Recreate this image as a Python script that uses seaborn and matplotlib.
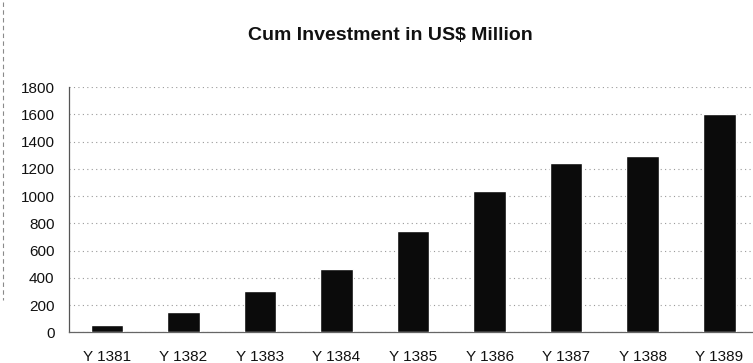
import matplotlib
matplotlib.use("Agg")
import matplotlib.pyplot as plt
from matplotlib.lines import Line2D
import seaborn as sns
import pandas as pd

years = ["Y 1381", "Y 1382", "Y 1383", "Y 1384", "Y 1385",
         "Y 1386", "Y 1387", "Y 1388", "Y 1389"]
investment = [50, 150, 305, 465, 745, 1040, 1240, 1295, 1600]
y_ticks = [0, 200, 400, 600, 800, 1000, 1200, 1400, 1600, 1800]

df = pd.DataFrame({"year": years, "investment": investment})

sns.set_theme(style="white")
plt.rcParams["font.family"] = ["Liberation Sans", "DejaVu Sans"]

fig = plt.figure(figsize=(7.53, 3.63), dpi=100)
W, H = 753, 363
left_px, right_px = 68.5, 753
bottom_px, top_px = 332.3, 87.1
ax = fig.add_axes([left_px / W, (H - bottom_px) / H,
                   (right_px - left_px) / W, (bottom_px - top_px) / H])

sns.barplot(data=df, x="year", y="investment", color="#0b0b0b",
            saturation=1, width=0.425, ax=ax, zorder=3)

ax.set_xlim(-0.5, 8.44)
ax.set_ylim(0, 1800)
ax.set_yticks(y_ticks)
ax.set_yticklabels([str(v) for v in y_ticks], fontsize=11, color="#111111")
ax.tick_params(axis="y", length=0, pad=10)
ax.tick_params(axis="x", length=0, pad=12.5, labelsize=11, labelcolor="#111111")
ax.set_xlabel("")
ax.set_ylabel("")

ax.yaxis.grid(True, linestyle=(0, (1, 3)), color="#9a9a9a", linewidth=0.8, zorder=0)
ax.xaxis.grid(False)
for side in ["top", "right"]:
    ax.spines[side].set_visible(False)
ax.spines["left"].set_color("#555555")
ax.spines["left"].set_linewidth(0.9)
ax.spines["bottom"].set_color("#666666")
ax.spines["bottom"].set_linewidth(0.9)

fig.text(390 / W, 1 - 35 / H, "Cum Investment in US$ Million",
         ha="center", va="center", fontsize=14, fontweight="bold",
         color="#111111")

# faint border rule along the left edge
fig.add_artist(Line2D([2.5 / W, 2.5 / W], [1 - 2 / H, 1 - 300 / H],
                      transform=fig.transFigure, color="#8a8a8a",
                      linewidth=0.8, linestyle=(0, (4, 3))))

fig.savefig("out.png", dpi=100)
